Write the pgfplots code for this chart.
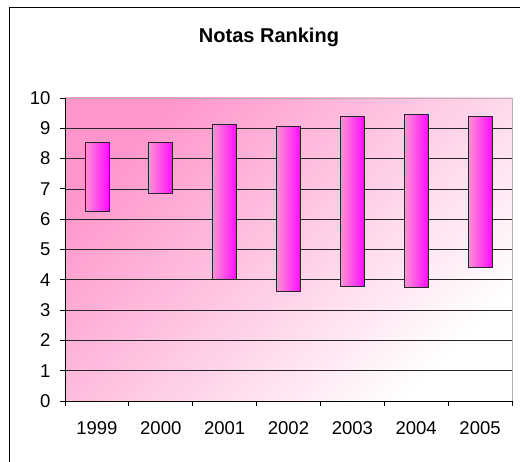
\documentclass[border=0pt]{standalone}
\usepackage{pgfplots}
\pgfplotsset{compat=1.18}
\usepackage{pgfplotstable}
\usepackage{fontspec}
\setmainfont{Liberation Sans}
\definecolor{bgpink}{RGB}{255,150,203}
\definecolor{barL}{RGB}{255,145,212}
\definecolor{barR}{RGB}{255,10,255}

\pgfplotstableread{
x year low high
0 1999 6.25 8.54
1 2000 6.84 8.54
2 2001 4.00 9.13
3 2002 3.61 9.05
4 2003 3.80 9.40
5 2004 3.74 9.46
6 2005 4.41 9.40
}\datatable

\pgfplotsset{
  baseaxis/.style={
    scale only axis, width=447pt, height=303pt,
    xmin=-0.5, xmax=6.5, ymin=0, ymax=10,
    ybar stacked, bar width=24pt,
  },
  lowpart/.style={draw=none, fill=none, forget plot, x filter/.expression={x==#1 ? x : nan}},
  highpart/.style={draw=black!85, line width=0.7pt, left color=barL, right color=barR, forget plot, x filter/.expression={x==#1 ? x : nan}},
}
\newcommand{\floatbar}[1]{%
  \addplot[lowpart=#1] table[x=x, y=low] {\datatable};
  \addplot[highpart=#1] table[x=x, y expr=\thisrow{high}-\thisrow{low}] {\datatable};
}
\newcommand{\overlay}[1]{%
  \begin{axis}[baseaxis, hide axis]
  \floatbar{#1}
  \end{axis}
}

\begin{document}
\begin{tikzpicture}
\begin{axis}[
  baseaxis,
  name=ax,
  ytick={0,...,9},
  extra y ticks={10},
  extra y tick style={grid=none},
  xtick={0,...,6},
  xticklabels={1999,2000,2001,2002,2003,2004,2005},
  major x tick style={draw=none},
  minor xtick={-0.5,0.5,...,6.5},
  tick align=outside,
  major tick length=5pt, minor tick length=5pt,
  tick style={black, line width=0.8pt},
  axis x line*=bottom, axis y line*=left,
  axis line style={black, line width=0.8pt, -},
  ymajorgrids,
  major grid style={black!85, line width=0.6pt},
  axis background/.style={draw=gray!60, line width=0.8pt, top color=bgpink, bottom color=white, shading angle=45},
  tick label style={font=\fontsize{18.5}{20}\selectfont},
  xticklabel style={yshift=-12pt},
  yticklabel style={xshift=-6pt},
  /pgf/number format/assume math mode=true,
]
\floatbar{0}
\end{axis}
\overlay{1}
\overlay{2}
\overlay{3}
\overlay{4}
\overlay{5}
\overlay{6}
\pgfresetboundingbox
\begin{scope}[shift={(ax.south west)}, x=1pt, y=1pt]
  \begin{scope}[shift={(-65,-61)}]
    \useasboundingbox (0,0) rectangle (520,462);
    \draw[black, line width=0.9pt] (9.8,-5) rectangle (523,454.7);
    \node[font=\bfseries\fontsize{20}{24}\selectfont, anchor=base] at (269,419.5) {Notas Ranking};
  \end{scope}
\end{scope}
\end{tikzpicture}
\end{document}
